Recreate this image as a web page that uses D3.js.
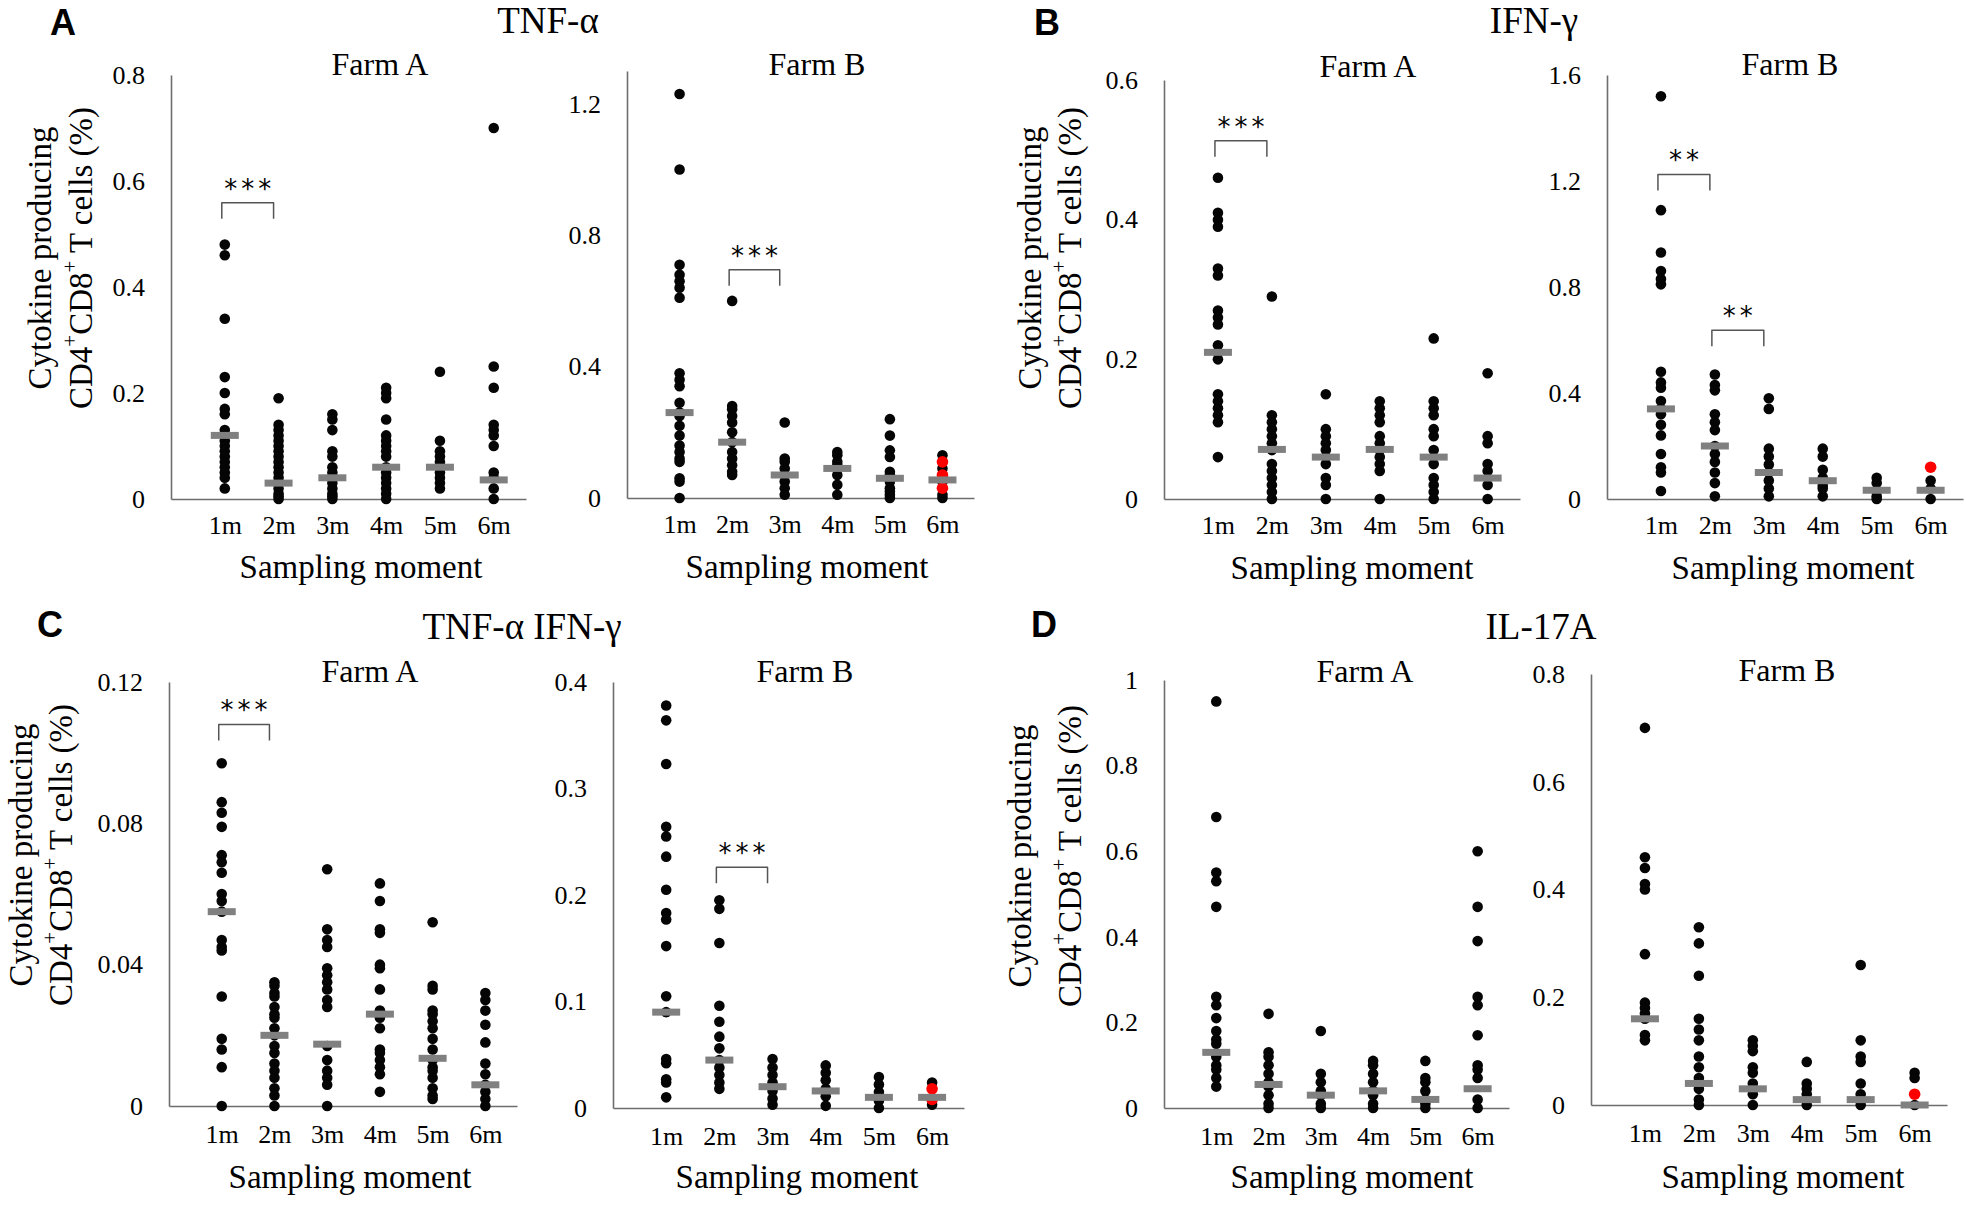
<!DOCTYPE html>
<html><head><meta charset="utf-8">
<script src="https://cdn.jsdelivr.net/npm/d3@7"></script>
<style>
body{margin:0;background:#fff}
svg{display:block}
text{font-family:"Liberation Serif","Times New Roman",serif;fill:#000}
</style>
</head><body>
<svg id="chart" width="1966" height="1211"></svg>
<script>
const categories = ["1m","2m","3m","4m","5m","6m"];

// ---- TNF-α ----
const tnfFarmA = [
  [0.48,0.46,0.34,0.23,0.20,0.17,0.16,0.13,0.12,0.11,0.10,0.09,0.08,0.07,0.06,0.05,0.04,0.02],
  [0.19,0.14,0.13,0.12,0.11,0.10,0.09,0.08,0.07,0.06,0.05,0.04,0.03,0.02,0.01,0.005,0],
  [0.16,0.15,0.13,0.09,0.08,0.06,0.05,0.04,0.03,0.02,0.01,0.005,0],
  [0.21,0.20,0.19,0.15,0.12,0.11,0.10,0.09,0.08,0.06,0.05,0.04,0.03,0.02,0.01,0],
  [0.24,0.11,0.09,0.08,0.07,0.06,0.05,0.04,0.03,0.02],
  [0.70,0.25,0.21,0.14,0.13,0.12,0.10,0.05,0.04,0.02,0]
];
const tnfFarmAMedian = [0.12,0.03,0.04,0.06,0.06,0.036];
const tnfFarmATicks = [0,0.2,0.4,0.6,0.8];
const tnfFarmABrackets = [{from:1,to:2,value:0.559,label:"***"}];

const tnfFarmB = [
  [1.23,1.0,0.71,0.68,0.66,0.64,0.61,0.38,0.36,0.34,0.29,0.26,0.25,0.22,0.19,0.16,0.14,0.12,0.11,0.06,0.05,0],
  [0.60,0.28,0.27,0.25,0.23,0.20,0.17,0.14,0.12,0.10,0.08,0.07],
  [0.23,0.12,0.11,0.09,0.07,0.05,0.03,0.01],
  [0.14,0.13,0.11,0.10,0.07,0.04,0.01],
  [0.24,0.19,0.145,0.125,0.08,0.07,0.05,0.03,0.02,0.01,0],
  [0.13,0.09,0.05,0.01,0]
];
const tnfFarmBRed = [[],[],[],[],[],[0.11,0.07,0.03]];
const tnfFarmBMedian = [0.26,0.17,0.07,0.09,0.06,0.055];
const tnfFarmBTicks = [0,0.4,0.8,1.2];
const tnfFarmBBrackets = [{from:2,to:3,value:0.695,label:"***"}];

// ---- IFN-γ ----
const ifnFarmA = [
  [0.46,0.41,0.40,0.39,0.33,0.32,0.27,0.26,0.25,0.22,0.21,0.20,0.15,0.14,0.13,0.12,0.11,0.06],
  [0.29,0.12,0.11,0.10,0.09,0.08,0.07,0.05,0.04,0.03,0.02,0.01,0],
  [0.15,0.10,0.09,0.08,0.07,0.06,0.05,0.03,0.02,0],
  [0.14,0.13,0.12,0.11,0.09,0.08,0.07,0.06,0.05,0.04,0],
  [0.23,0.14,0.13,0.12,0.10,0.09,0.07,0.05,0.03,0.02,0.01,0],
  [0.18,0.09,0.08,0.05,0.04,0.02,0]
];
const ifnFarmAMedian = [0.21,0.071,0.06,0.071,0.06,0.03];
const ifnFarmATicks = [0,0.2,0.4,0.6];
const ifnFarmABrackets = [{from:1,to:2,value:0.513,label:"***"}];

const ifnFarmB = [
  [1.52,1.09,0.93,0.86,0.83,0.81,0.48,0.44,0.42,0.37,0.34,0.32,0.28,0.24,0.17,0.12,0.10,0.03],
  [0.47,0.43,0.41,0.32,0.29,0.26,0.20,0.17,0.14,0.10,0.06,0.01],
  [0.38,0.34,0.19,0.16,0.13,0.10,0.07,0.04,0.01],
  [0.19,0.16,0.11,0.08,0.05,0.04,0.01],
  [0.08,0.06,0.03,0.01,0],
  [0.07,0.04,0]
];
const ifnFarmBRed = [[],[],[],[],[],[0.12]];
const ifnFarmBMedian = [0.34,0.2,0.1,0.069,0.033,0.033];
const ifnFarmBTicks = [0,0.4,0.8,1.2,1.6];
const ifnFarmBBrackets = [{from:1,to:2,value:1.225,label:"**"},{from:2,to:3,value:0.637,label:"**"}];

// ---- TNF-α IFN-γ ----
const dualFarmA = [
  [0.097,0.086,0.083,0.079,0.071,0.069,0.066,0.060,0.058,0.055,0.047,0.045,0.044,0.031,0.019,0.016,0.011,0],
  [0.035,0.034,0.032,0.031,0.028,0.026,0.025,0.022,0.020,0.017,0.015,0.012,0.010,0.008,0.005,0.003,0],
  [0.067,0.050,0.047,0.045,0.039,0.037,0.035,0.033,0.030,0.028,0.017,0.013,0.010,0.008,0.006,0],
  [0.063,0.058,0.050,0.049,0.040,0.039,0.033,0.027,0.025,0.022,0.016,0.015,0.013,0.011,0.009,0.004],
  [0.052,0.034,0.033,0.027,0.026,0.024,0.022,0.019,0.016,0.013,0.011,0.010,0.008,0.005,0.003,0.002],
  [0.032,0.030,0.027,0.023,0.018,0.012,0.009,0.006,0.004,0.002,0]
];
const dualFarmAMedian = [0.055,0.02,0.0175,0.026,0.0135,0.006];
const dualFarmATicks = [0,0.04,0.08,0.12];
const dualFarmABrackets = [{from:1,to:2,value:0.108,label:"***"}];

const dualFarmB = [
  [0.378,0.364,0.323,0.264,0.255,0.236,0.205,0.183,0.177,0.152,0.105,0.09,0.046,0.042,0.027,0.024,0.01],
  [0.195,0.187,0.155,0.096,0.081,0.067,0.056,0.045,0.038,0.031,0.024,0.018],
  [0.046,0.038,0.031,0.024,0.016,0.009,0.003],
  [0.040,0.033,0.026,0.018,0.011,0.002],
  [0.029,0.022,0.015,0.007,0],
  [0.024,0.003]
];
const dualFarmBRed = [[],[],[],[],[],[0.018,0.008]];
const dualFarmBMedian = [0.09,0.045,0.02,0.016,0.01,0.01];
const dualFarmBTicks = [0,0.1,0.2,0.3,0.4];
const dualFarmBBrackets = [{from:2,to:3,value:0.226,label:"***"}];

// ---- IL-17A ----
const il17FarmA = [
  [0.95,0.68,0.55,0.53,0.47,0.26,0.24,0.21,0.18,0.16,0.15,0.12,0.10,0.09,0.07,0.05],
  [0.22,0.13,0.12,0.10,0.08,0.06,0.05,0.03,0.01,0],
  [0.18,0.08,0.06,0.04,0.03,0.01,0],
  [0.11,0.10,0.08,0.06,0.04,0.03,0.01,0],
  [0.11,0.07,0.06,0.04,0.02,0.01,0],
  [0.60,0.47,0.39,0.26,0.24,0.17,0.10,0.09,0.07,0.02,0]
];
const il17FarmAMedian = [0.13,0.055,0.03,0.04,0.02,0.045];
const il17FarmATicks = [0,0.2,0.4,0.6,0.8,1];

const il17FarmB = [
  [0.70,0.46,0.44,0.41,0.40,0.28,0.19,0.18,0.17,0.16,0.13,0.12],
  [0.33,0.30,0.24,0.16,0.14,0.12,0.09,0.07,0.05,0.04,0.03,0.01,0],
  [0.12,0.11,0.10,0.07,0.06,0.04,0.03,0.02,0],
  [0.08,0.04,0.03,0.02,0],
  [0.26,0.12,0.09,0.08,0.04,0.02,0.01,0],
  [0.06,0.05,0]
];
const il17FarmBRed = [[],[],[],[],[],[0.02]];
const il17FarmBMedian = [0.16,0.04,0.03,0.01,0.01,0];
const il17FarmBTicks = [0,0.2,0.4,0.6,0.8];

const cytokineTitles = ["TNF-α","IFN-γ","TNF-α IFN-γ","IL-17A"];
const panelLetters = ["A","B","C","D"];

// ---------- layout ----------
const svg = d3.select("#chart");
const AX = "#6e6e6e";
const SERIF = '"Liberation Serif","Times New Roman",serif';

const panels = [
  {vals:tnfFarmA, med:tnfFarmAMedian, red:null, ticks:tnfFarmATicks, max:0.8, farm:"Farm A", br:tnfFarmABrackets,
   L:{x0:171,x1:526,yz:499,yt:75,tx:380,ty:75,sx:361,sy:578,lab:17,yl:{a:40,b:81,c:258}}},
  {vals:tnfFarmB, med:tnfFarmBMedian, red:tnfFarmBRed, ticks:tnfFarmBTicks, max:1.3, farm:"Farm B", br:tnfFarmBBrackets,
   L:{x0:627,x1:974,yz:498,yt:71,tx:817,ty:75,sx:807,sy:578,lab:17}},
  {vals:ifnFarmA, med:ifnFarmAMedian, red:null, ticks:ifnFarmATicks, max:0.6, farm:"Farm A", br:ifnFarmABrackets,
   L:{x0:1164,x1:1520,yz:499,yt:80,tx:1368,ty:77,sx:1352,sy:579,lab:17,yl:{a:1030,b:1070,c:258}}},
  {vals:ifnFarmB, med:ifnFarmBMedian, red:ifnFarmBRed, ticks:ifnFarmBTicks, max:1.6, farm:"Farm B", br:ifnFarmBBrackets,
   L:{x0:1607,x1:1963,yz:499,yt:75,tx:1790,ty:75,sx:1793,sy:579,lab:17}},
  {vals:dualFarmA, med:dualFarmAMedian, red:null, ticks:dualFarmATicks, max:0.12, farm:"Farm A", br:dualFarmABrackets,
   L:{x0:169,x1:517,yz:1106,yt:682,tx:370,ty:682,sx:350,sy:1188,lab:19,yl:{a:21,b:61,c:855}}},
  {vals:dualFarmB, med:dualFarmBMedian, red:dualFarmBRed, ticks:dualFarmBTicks, max:0.4, farm:"Farm B", br:dualFarmBBrackets,
   L:{x0:613,x1:964,yz:1108,yt:682,tx:805,ty:682,sx:797,sy:1188,lab:19}},
  {vals:il17FarmA, med:il17FarmAMedian, red:null, ticks:il17FarmATicks, max:1.0, farm:"Farm A", br:[],
   L:{x0:1164,x1:1509,yz:1108,yt:680,tx:1365,ty:682,sx:1352,sy:1188,lab:19,yl:{a:1020,b:1070,c:856}}},
  {vals:il17FarmB, med:il17FarmBMedian, red:il17FarmBRed, ticks:il17FarmBTicks, max:0.8, farm:"Farm B", br:[],
   L:{x0:1591,x1:1947,yz:1105,yt:674,tx:1787,ty:681,sx:1783,sy:1188,lab:19}}
];

panels.forEach(p => {
  const L = p.L;
  const x = d3.scaleLinear().domain([0,6.6]).range([L.x0,L.x1]);
  const y = d3.scaleLinear().domain([0,p.max]).range([L.yz,L.yt]);
  const g = svg.append("g");

  // y axis
  const ya = g.append("g").attr("transform",`translate(${L.x0},0)`)
    .call(d3.axisLeft(y).tickValues(p.ticks).tickSize(0).tickSizeOuter(0).tickPadding(26).tickFormat(d=>String(d)));
  ya.attr("font-family",null).attr("font-size",null);
  ya.select(".domain").attr("stroke",AX).attr("stroke-width",1.6);
  ya.selectAll("text").style("font-family",SERIF).style("font-size","26px").style("fill","#000");

  // x axis
  const xa = g.append("g").attr("transform",`translate(0,${L.yz})`)
    .call(d3.axisBottom(x).tickValues([1,2,3,4,5,6]).tickSize(0).tickSizeOuter(0).tickPadding(L.lab).tickFormat(d=>categories[d-1]));
  xa.attr("font-family",null).attr("font-size",null);
  xa.select(".domain").attr("stroke",AX).attr("stroke-width",1.6);
  xa.selectAll("text").style("font-family",SERIF).style("font-size","26px").style("fill","#000");

  // dots
  const pts = [];
  p.vals.forEach((arr,i)=>arr.forEach(v=>pts.push({i,v})));
  g.append("g").selectAll("circle").data(pts).join("circle")
    .attr("cx",d=>x(d.i+1)).attr("cy",d=>y(d.v)).attr("r",5.3).attr("fill","#050505");
  if (p.red) {
    const rp = [];
    p.red.forEach((arr,i)=>arr.forEach(v=>rp.push({i,v})));
    g.append("g").selectAll("circle").data(rp).join("circle")
      .attr("cx",d=>x(d.i+1)).attr("cy",d=>y(d.v)).attr("r",5.8).attr("fill","#ff0000");
  }
  // medians
  g.append("g").selectAll("rect").data(p.med).join("rect")
    .attr("x",(d,i)=>x(i+1)-14).attr("y",d=>y(d)-3.5).attr("width",28).attr("height",7).attr("fill","#808080");

  // brackets
  p.br.forEach(b=>{
    const xa1 = x(b.from)-3, xb1 = x(b.to)-5, yy = y(b.value);
    g.append("path").attr("d",`M${xa1},${yy+16}V${yy}H${xb1}V${yy+16}`)
      .attr("fill","none").attr("stroke","#555").attr("stroke-width",1.5).attr("stroke-linejoin","round");
    g.append("text").attr("x",(xa1+xb1)/2+2).attr("y",yy-5).attr("text-anchor","middle")
      .style("font-family","DejaVu Sans").style("font-size","26px").attr("letter-spacing",4).text(b.label);
  });

  // farm title
  g.append("text").attr("x",L.tx).attr("y",L.ty).attr("text-anchor","middle").style("font-size","32px").text(p.farm);
  // x label
  g.append("text").attr("x",L.sx).attr("y",L.sy).attr("text-anchor","middle").style("font-size","33px").text("Sampling moment");

  // y title
  if (L.yl) {
    g.append("text").attr("transform",`translate(${L.yl.a},${L.yl.c}) rotate(-90)`)
      .attr("text-anchor","middle").attr("dominant-baseline","central").style("font-size","33px").text("Cytokine producing");
    const t2 = g.append("text").attr("transform",`translate(${L.yl.b},${L.yl.c}) rotate(-90)`)
      .attr("text-anchor","middle").attr("dominant-baseline","central").style("font-size","33px");
    t2.append("tspan").text("CD4");
    t2.append("tspan").style("font-size","21px").attr("dy",-11).text("+");
    t2.append("tspan").attr("dy",11).text("CD8");
    t2.append("tspan").style("font-size","21px").attr("dy",-11).text("+");
    t2.append("tspan").attr("dy",11).text(" T cells (%)");
  }
});

// cytokine titles & panel letters
const titlePos = [[548,33],[1534,33],[522,639],[1541,639]];
const letterPos = [[50,35],[1034,35],[37,637],[1031,637]];
cytokineTitles.forEach((t,i)=>{
  svg.append("text").attr("x",titlePos[i][0]).attr("y",titlePos[i][1]).attr("text-anchor","middle")
    .style("font-size","37px").text(t);
});
panelLetters.forEach((t,i)=>{
  svg.append("text").attr("x",letterPos[i][0]).attr("y",letterPos[i][1])
    .style("font-family",'"Liberation Sans",Arial,sans-serif').style("font-weight","bold").style("font-size","36px").text(t);
});
</script>
</body></html>
